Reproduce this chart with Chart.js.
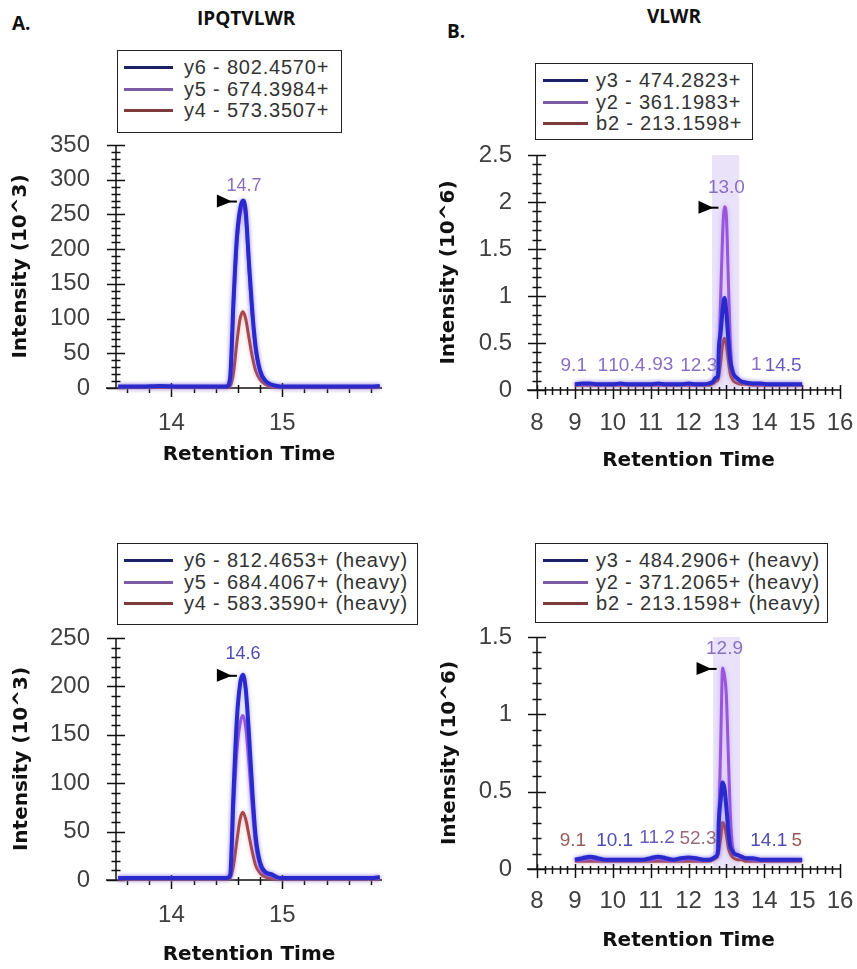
<!DOCTYPE html>
<html>
<head>
<meta charset="utf-8">
<script src="https://cdn.jsdelivr.net/npm/chart.js@4.4.1/dist/chart.umd.min.js"></script>
<style>
  html, body { margin: 0; padding: 0; background: #fff; }
  body { position: relative; width: 857px; height: 969px; overflow: hidden; font-family: 'Liberation Sans', Arial, sans-serif; }
  .hdr { position: absolute; font-family: 'Open Sans', sans-serif; font-weight: bold; font-size: 19px; line-height: 20px; color: #111; white-space: nowrap; }
  .box { position: absolute; border: 1.5px solid #222; background: #fff; box-sizing: border-box; z-index: 2; }
  .row { position: absolute; left: 0; right: 0; height: 22px; }
  .sw { position: absolute; top: 10px; height: 3px; }
  .tx { position: absolute; top: 0; line-height: 22px; font-size: 20px; letter-spacing: 0.8px; color: #333; white-space: nowrap; }
  canvas { position: absolute; }
</style>
</head>
<body>
<div class="hdr" style="left:12px;top:13px">A.</div>
<div class="hdr" style="left:197px;top:8px">IPQTVLWR</div>
<div class="hdr" style="left:447px;top:21px">B.</div>
<div class="hdr" style="left:647px;top:6px">VLWR</div>

<canvas id="a1" width="430" height="339" style="left:0;top:130px"></canvas>
<canvas id="b1" width="427" height="345" style="left:430px;top:130px"></canvas>
<canvas id="a2" width="430" height="349" style="left:0;top:620px"></canvas>
<canvas id="b2" width="427" height="335" style="left:430px;top:620px"></canvas>

<script>
// ---- data ----
// IPQTVLWR (retention time, intensity 10^3)
const rtA = [13.52, 13.7, 13.9, 14.1, 14.3, 14.45, 14.5, 14.53, 14.56, 14.59, 14.62, 14.645, 14.67, 14.70, 14.73, 14.76, 14.80, 14.85, 14.90, 14.95, 15.0, 15.2, 15.4, 15.6, 15.8, 15.88];
const y6Light = [2, 2, 3, 2, 2, 2, 2, 15, 125, 215, 258, 270, 255, 180, 110, 59, 25, 10, 5, 3, 2, 2, 2, 2, 2, 3];
const y5Light = [2, 2, 2, 2, 2, 2, 2, 12, 115, 205, 250, 262, 246, 170, 102, 54, 22, 9, 4, 3, 2, 2, 2, 2, 2, 2];
const y4Light = [1, 1, 1, 1, 1, 1, 1, 3, 22, 65, 100, 110, 100, 72, 45, 25, 12, 5, 2, 1, 1, 1, 1, 1, 1, 1];
const y6Heavy = [2, 2, 2, 2, 2, 2, 2, 5, 90, 165, 203, 212, 198, 150, 92, 45, 18, 8, 6, 3, 2, 2, 2, 2, 2, 3];
const y5Heavy = [2, 2, 2, 2, 2, 2, 2, 4, 72, 132, 162, 170, 158, 120, 74, 36, 14, 6, 5, 2, 2, 2, 2, 2, 2, 2];
const y4Heavy = [1, 1, 1, 1, 1, 1, 1, 2, 15, 40, 63, 70, 63, 46, 29, 15, 7, 3, 2, 1, 1, 1, 1, 1, 1, 1];

// VLWR (retention time, intensity 10^6)
const rtB = [9.0, 9.2, 9.4, 9.6, 9.8, 10.0, 10.2, 10.4, 10.6, 10.8, 11.0, 11.2, 11.4, 11.6, 11.8, 12.0, 12.2, 12.4, 12.55, 12.65, 12.72, 12.78, 12.8, 12.85, 12.9, 12.95, 13.0, 13.05, 13.1, 13.15, 13.2, 13.3, 13.4, 13.5, 13.7, 13.9, 14.1, 14.3, 14.5, 14.7, 14.9, 15.0];
const y3Light = [0.06, 0.07, 0.07, 0.06, 0.06, 0.06, 0.07, 0.06, 0.06, 0.06, 0.06, 0.07, 0.06, 0.06, 0.06, 0.07, 0.06, 0.06, 0.07, 0.09, 0.13, 0.15, 0.42, 0.62, 0.85, 0.98, 0.82, 0.55, 0.32, 0.22, 0.16, 0.12, 0.09, 0.08, 0.07, 0.07, 0.06, 0.06, 0.06, 0.06, 0.06, 0.06];
const y2Light = [0.06, 0.06, 0.06, 0.06, 0.06, 0.06, 0.06, 0.06, 0.06, 0.06, 0.06, 0.06, 0.06, 0.06, 0.06, 0.06, 0.06, 0.06, 0.07, 0.09, 0.13, 0.16, 0.30, 1.00, 1.65, 1.95, 1.85, 1.20, 0.55, 0.22, 0.15, 0.11, 0.09, 0.08, 0.07, 0.06, 0.06, 0.06, 0.06, 0.06, 0.06, 0.06];
const b2Light = [0.05, 0.05, 0.05, 0.05, 0.05, 0.05, 0.05, 0.05, 0.05, 0.05, 0.05, 0.05, 0.05, 0.05, 0.05, 0.05, 0.05, 0.05, 0.05, 0.07, 0.09, 0.11, 0.15, 0.30, 0.48, 0.55, 0.48, 0.32, 0.18, 0.12, 0.09, 0.07, 0.06, 0.06, 0.05, 0.05, 0.05, 0.05, 0.05, 0.05, 0.05, 0.05];
const y3Heavy = [0.06, 0.07, 0.08, 0.07, 0.06, 0.06, 0.06, 0.06, 0.06, 0.06, 0.07, 0.08, 0.07, 0.06, 0.07, 0.075, 0.07, 0.06, 0.06, 0.07, 0.08, 0.12, 0.30, 0.45, 0.56, 0.52, 0.40, 0.25, 0.15, 0.12, 0.10, 0.09, 0.08, 0.07, 0.07, 0.06, 0.06, 0.06, 0.06, 0.06, 0.06, 0.06];
const y2Heavy = [0.06, 0.06, 0.07, 0.06, 0.06, 0.06, 0.06, 0.06, 0.06, 0.06, 0.06, 0.07, 0.06, 0.06, 0.06, 0.07, 0.06, 0.06, 0.06, 0.07, 0.08, 0.11, 0.30, 0.80, 1.30, 1.25, 1.12, 0.75, 0.38, 0.17, 0.11, 0.09, 0.08, 0.07, 0.06, 0.06, 0.06, 0.06, 0.06, 0.06, 0.06, 0.06];
const b2Heavy = [0.05, 0.05, 0.05, 0.05, 0.05, 0.05, 0.05, 0.05, 0.05, 0.05, 0.05, 0.05, 0.05, 0.05, 0.05, 0.05, 0.05, 0.05, 0.05, 0.06, 0.07, 0.09, 0.12, 0.20, 0.30, 0.28, 0.22, 0.14, 0.10, 0.08, 0.07, 0.06, 0.06, 0.05, 0.05, 0.05, 0.05, 0.05, 0.05, 0.05, 0.05, 0.05];

const labelsA1 = ['y6 - 802.4570+', 'y5 - 674.3984+', 'y4 - 573.3507+'];
const labelsA2 = ['y6 - 812.4653+ (heavy)', 'y5 - 684.4067+ (heavy)', 'y4 - 583.3590+ (heavy)'];
const labelsB1 = ['y3 - 474.2823+', 'y2 - 361.1983+', 'b2 - 213.1598+'];
const labelsB2 = ['y3 - 484.2906+ (heavy)', 'y2 - 371.2065+ (heavy)', 'b2 - 213.1598+ (heavy)'];

const xTicksA = [14, 15];
const xTicksB = [8, 9, 10, 11, 12, 13, 14, 15, 16];
const yTicksA1 = [0, 50, 100, 150, 200, 250, 300, 350];
const yTicksA2 = [0, 50, 100, 150, 200, 250];
const yTicksB1 = [0, 0.5, 1, 1.5, 2, 2.5];
const yTicksB2 = [0, 0.5, 1, 1.5];

// integrated peak windows (B panels)
const windowB1 = [12.62, 13.34];
const windowB2 = [12.65, 13.36];

// peak retention-time annotations
const peaksA1 = [{ x: 14.655, t: '14.7', c: '#8a6ec4' }];
const peaksA2 = [{ x: 14.645, t: '14.6', c: '#4c4cb4' }];
const peaksB1 = [
  { x: 8.97, t: '9.1', c: '#8a6ec4' }, { x: 9.74, t: '1', c: '#8a6ec4' }, { x: 10.37, t: '10.4', c: '#8a6ec4' },
  { x: 11.25, t: '.93', c: '#8a6ec4' }, { x: 12.27, t: '12.3', c: '#8a6ec4' }, { x: 13.0, t: '13.0', c: '#8a6ec4' },
  { x: 13.79, t: '1', c: '#8a6ec4' }, { x: 14.5, t: '14.5', c: '#6a5cc0' }
];
const peaksB2 = [
  { x: 8.95, t: '9.1', c: '#9a5a5a' }, { x: 10.05, t: '10.1', c: '#4c4cb4' }, { x: 11.17, t: '11.2', c: '#6a5cc0' },
  { x: 12.25, t: '52.3', c: '#9a6a7a' }, { x: 12.95, t: '12.9', c: '#8a6ec4' },
  { x: 14.12, t: '14.1', c: '#4c4cb4' }, { x: 14.86, t: '5', c: '#9a5a5a' }
];
const apexA1 = 14.645, apexA2 = 14.645, apexB1 = 12.95, apexB2 = 12.9;

// ---- styles ----
const lineColors = ['#2a2acc', '#9b55dd', '#a84848'];
const glowColors = ['rgba(90,90,240,0.55)', 'rgba(170,120,240,0.5)', 'rgba(200,120,120,0.5)'];
const swatchColors = ['#1c2066', '#7b5aa6', '#7d3b3b'];
const tickFont = { family: 'Liberation Sans', size: 24 };
const titleFont = { family: 'DejaVu Sans', size: 20, weight: 'bold' };

function valueNear(chart, xv) {
  let best = -Infinity, nearest = null, nd = Infinity;
  chart.data.datasets.forEach(ds => ds.data.forEach(p => {
    const d = Math.abs(p.x - xv);
    if (d <= 0.06 && p.y > best) best = p.y;
    if (d < nd) { nd = d; nearest = p.y; }
  }));
  if (best === -Infinity) {
    chart.data.datasets.forEach(ds => ds.data.forEach(p => {
      if (Math.abs(Math.abs(p.x - xv) - nd) < 1e-9 && p.y > nearest) nearest = p.y;
    }));
    return nearest;
  }
  return best;
}

const crossAxes = {
  id: 'crossAxes',
  beforeDatasetsDraw(chart, args, o) {
    const { ctx, chartArea: a, scales: { x, y } } = chart;
    ctx.save();
    if (o.shade) {
      const x0 = x.getPixelForValue(o.shade[0]), x1 = x.getPixelForValue(o.shade[1]);
      ctx.fillStyle = 'rgba(196,178,240,0.38)';
      ctx.fillRect(x0, a.top, x1 - x0, a.bottom - a.top);
    }
    ctx.strokeStyle = '#111';
    ctx.lineWidth = 1.5;
    ctx.beginPath();
    ctx.moveTo(a.left, a.top); ctx.lineTo(a.left, a.bottom);
    ctx.moveTo(a.left - 10, a.bottom); ctx.lineTo(a.right, a.bottom);
    // y ticks
    const ny = Math.round((y.max - y.min) / o.yMinor);
    for (let i = 0; i <= ny; i++) {
      const v = y.min + i * o.yMinor;
      const py = Math.round(y.getPixelForValue(v)) + 0.5;
      const major = Math.abs(v / o.yMajor - Math.round(v / o.yMajor)) < 1e-6;
      const h = major ? 9 : 4.5;
      ctx.moveTo(a.left - h, py); ctx.lineTo(a.left + h, py);
    }
    // x ticks
    const start = Math.ceil(x.min / o.xMinor - 1e-6);
    const end = Math.floor(x.max / o.xMinor + 1e-6);
    for (let k = start; k <= end; k++) {
      const v = k * o.xMinor;
      const px = Math.round(x.getPixelForValue(v)) + 0.5;
      const major = Math.abs(v - Math.round(v)) < 1e-6;
      if (major) { ctx.moveTo(px, a.bottom - 5); ctx.lineTo(px, a.bottom + 9); }
      else { ctx.moveTo(px, a.bottom - 3); ctx.lineTo(px, a.bottom + 5); }
    }
    ctx.stroke();
    ctx.restore();
  },
  beforeDatasetDraw(chart, args) {
    const ctx = chart.ctx;
    ctx.save();
    ctx.shadowColor = glowColors[args.index];
    ctx.shadowBlur = 4;
  },
  afterDatasetDraw(chart) {
    chart.ctx.restore();
  },
  afterDatasetsDraw(chart, args, o) {
    const { ctx, scales: { x, y } } = chart;
    ctx.save();
    ctx.font = o.labelSize + 'px "Liberation Sans"';
    ctx.textAlign = 'center';
    ctx.textBaseline = 'middle';
    o.peaks.forEach(p => {
      ctx.fillStyle = p.c;
      ctx.fillText(p.t, x.getPixelForValue(p.x), y.getPixelForValue(valueNear(chart, p.x)) - o.labelGap);
    });
    // apex marker
    const tx = x.getPixelForValue(o.apex) - 6;
    const ty = y.getPixelForValue(valueNear(chart, o.apex)) + 1;
    ctx.fillStyle = '#000';
    ctx.beginPath();
    ctx.moveTo(tx - 20, ty - 7); ctx.lineTo(tx - 20, ty + 6); ctx.lineTo(tx - 5, ty); ctx.closePath();
    ctx.fill();
    ctx.fillRect(tx - 8, ty - 1, 8, 2);
    ctx.restore();
  }
};

function legendBox(left, top, width, height, labels, swOff, swW, txOff) {
  const box = document.createElement('div');
  box.className = 'box';
  Object.assign(box.style, { left: left + 'px', top: top + 'px', width: width + 'px', height: height + 'px' });
  labels.forEach((t, i) => {
    const row = document.createElement('div');
    row.className = 'row';
    row.style.top = (5 + i * 21.5) + 'px';
    row.innerHTML = `<div class="sw" style="left:${swOff}px;width:${swW}px;background:${swatchColors[i]}"></div>` +
      `<div class="tx" style="left:${txOff}px">${t}</div>`;
    box.appendChild(row);
  });
  document.body.appendChild(box);
}

function panel(id, o) {
  new Chart(document.getElementById(id), {
    type: 'line',
    data: {
      datasets: o.series.map((s, i) => ({
        label: o.labels[i],
        data: o.x.map((v, j) => ({ x: v, y: s[j] })),
        borderColor: lineColors[i],
        borderWidth: i === 0 ? 4 : 3,
        pointRadius: 0,
        cubicInterpolationMode: 'monotone',
        clip: false
      }))
    },
    options: {
      responsive: false,
      animation: false,
      events: [],
      layout: { padding: { left: 0, top: o.padTop, right: o.padRight, bottom: 0 } },
      plugins: {
        legend: { display: false },
        tooltip: { enabled: false },
        crossAxes: { shade: o.shade, xMinor: o.xMinor, yMinor: o.yMinor, yMajor: o.yMajor, peaks: o.peaks, apex: o.apex, labelSize: o.labelSize, labelGap: o.labelGap }
      },
      scales: {
        x: {
          type: 'linear', bounds: 'data', min: o.xMin, max: o.xMax,
          afterBuildTicks: s => { s.ticks = o.xTicks.map(v => ({ value: v })); },
          afterFit: s => { s.height = o.xHeight; },
          grid: { display: false, drawTicks: true, tickLength: o.xPad },
          border: { display: false },
          ticks: { font: tickFont, color: '#404040', padding: 0, maxRotation: 0, autoSkip: false, callback: v => String(v) },
          title: { display: true, text: 'Retention Time', font: titleFont, color: '#111', padding: { top: 0, bottom: 2 } }
        },
        y: {
          type: 'linear', bounds: 'data', min: 0, max: o.yMax,
          afterBuildTicks: s => { s.ticks = o.yTicks.map(v => ({ value: v })); },
          afterFit: s => { s.width = o.yWidth; },
          grid: { display: false, drawTicks: true, tickLength: o.yPad },
          border: { display: false },
          ticks: { font: tickFont, color: '#404040', padding: 0, autoSkip: false, callback: v => String(v) },
          title: { display: true, text: o.yTitle, font: titleFont, color: '#111', padding: { top: o.yTitlePad, bottom: 0 } }
        }
      }
    },
    plugins: [crossAxes]
  });
}

panel('a1', {
  x: rtA, series: [y6Light, y5Light, y4Light], labels: labelsA1,
  xMin: 13.5, xMax: 15.9, xTicks: xTicksA, xMinor: 0.2, yMax: 350, yTicks: yTicksA1, yMinor: 10, yMajor: 50,
  padTop: 15, padRight: 48, xHeight: 81, yWidth: 116, xPad: 21, yPad: 26, yTitlePad: 9,
  yTitle: 'Intensity (10^3)', peaks: peaksA1, apex: apexA1, labelSize: 18, labelGap: 15
});
panel('b1', {
  x: rtB, series: [y3Light, y2Light, b2Light], labels: labelsB1, shade: windowB1,
  xMin: 8, xMax: 16, xTicks: xTicksB, xMinor: 0.2, yMax: 2.5, yTicks: yTicksB1, yMinor: 0.1, yMajor: 0.5,
  padTop: 25, padRight: 17, xHeight: 85, yWidth: 107, xPad: 19, yPad: 25, yTitlePad: 7,
  yTitle: 'Intensity (10^6)', peaks: peaksB1, apex: apexB1, labelSize: 19, labelGap: 19
});
panel('a2', {
  x: rtA, series: [y6Heavy, y5Heavy, y4Heavy], labels: labelsA2,
  xMin: 13.5, xMax: 15.9, xTicks: xTicksA, xMinor: 0.2, yMax: 250, yTicks: yTicksA2, yMinor: 10, yMajor: 50,
  padTop: 18, padRight: 48, xHeight: 89, yWidth: 116, xPad: 21, yPad: 26, yTitlePad: 10,
  yTitle: 'Intensity (10^3)', peaks: peaksA2, apex: apexA2, labelSize: 18, labelGap: 21
});
panel('b2', {
  x: rtB, series: [y3Heavy, y2Heavy, b2Heavy], labels: labelsB2, shade: windowB2,
  xMin: 8, xMax: 16, xTicks: xTicksB, xMinor: 0.2, yMax: 1.5, yTicks: yTicksB2, yMinor: 0.1, yMajor: 0.5,
  padTop: 17, padRight: 17, xHeight: 86, yWidth: 107, xPad: 18, yPad: 25, yTitlePad: 8,
  yTitle: 'Intensity (10^6)', peaks: peaksB2, apex: apexB2, labelSize: 19, labelGap: 19
});

legendBox(117, 50, 225, 83, labelsA1, 6, 49, 66);
legendBox(535, 63, 218, 77, labelsB1, 7, 45, 60);
legendBox(117, 543, 301, 82, labelsA2, 6, 49, 66);
legendBox(535, 543, 293, 80, labelsB2, 7, 45, 60);
</script>
</body>
</html>
